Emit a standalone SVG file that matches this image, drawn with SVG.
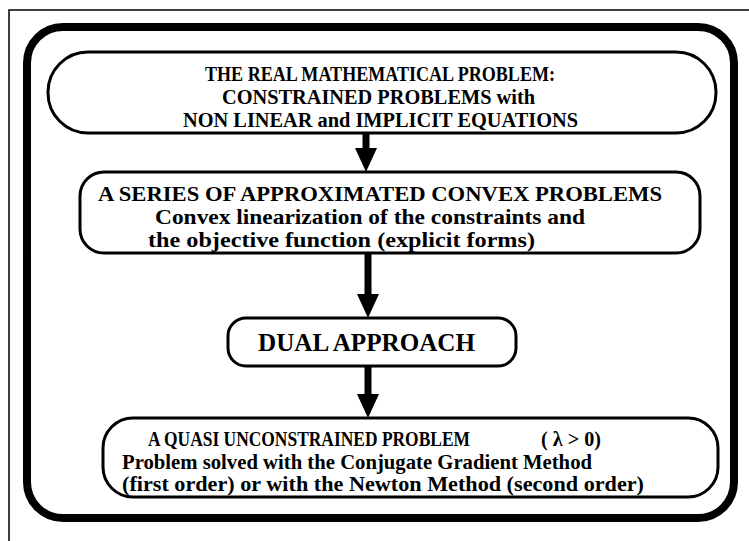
<svg xmlns="http://www.w3.org/2000/svg" width="749" height="541" viewBox="0 0 749 541">
<defs>
<style>
.box{fill:#fff;stroke:#000;stroke-width:3}
.t{font-family:"Liberation Serif","Times New Roman",serif;font-weight:bold;font-size:20px;fill:#000}
.c{text-anchor:middle}
.shaft{stroke:#000;stroke-width:7;fill:none}
</style>
<marker id="ah" markerUnits="userSpaceOnUse" viewBox="0 0 24 22" refX="0" refY="11" markerWidth="24" markerHeight="22" orient="auto">
<path d="M0,0 L24,11 L0,22 z" fill="#000"/>
</marker>
</defs>
<rect width="749" height="541" fill="#fff"/>
<path d="M9 541 V10 H749" fill="none" stroke="#000" stroke-width="1.5"/>
<rect x="27" y="27" width="707" height="491" rx="36" fill="none" stroke="#000" stroke-width="8"/>
<g id="connectors">
<line class="shaft" x1="366" y1="133" x2="366" y2="148" marker-end="url(#ah)"/>
<line class="shaft" x1="368" y1="253" x2="368" y2="294" marker-end="url(#ah)"/>
<line class="shaft" x1="368" y1="366" x2="368" y2="394" marker-end="url(#ah)"/>
</g>
<g id="node1">
<rect class="box" x="48" y="52" width="668" height="81" rx="40"/>
<text class="t" x="205" y="81" textLength="350" lengthAdjust="spacingAndGlyphs">THE REAL MATHEMATICAL PROBLEM:</text>
<text class="t" x="222" y="104" textLength="313" lengthAdjust="spacingAndGlyphs">CONSTRAINED PROBLEMS with</text>
<text class="t" x="183" y="127" textLength="395" lengthAdjust="spacingAndGlyphs">NON LINEAR and IMPLICIT EQUATIONS</text>
</g>
<g id="node2">
<rect class="box" x="80" y="172" width="620" height="81" rx="24"/>
<text class="t" x="98" y="201" style="font-size:21px" textLength="564" lengthAdjust="spacingAndGlyphs">A SERIES OF APPROXIMATED CONVEX PROBLEMS</text>
<text class="t" x="155" y="224" style="font-size:21px" textLength="430" lengthAdjust="spacingAndGlyphs">Convex linearization of the constraints and</text>
<text class="t" x="148" y="247" style="font-size:21px" textLength="387" lengthAdjust="spacingAndGlyphs">the objective function (explicit forms)</text>
</g>
<g id="node3">
<rect class="box" x="228" y="318" width="288" height="48" rx="18"/>
<text class="t" x="258" y="351" style="font-size:25px" textLength="217" lengthAdjust="spacingAndGlyphs">DUAL APPROACH</text>
</g>
<g id="node4">
<rect class="box" x="103" y="418" width="615" height="79" rx="30"/>
<text class="t" x="148" y="446" textLength="322" lengthAdjust="spacingAndGlyphs">A QUASI UNCONSTRAINED PROBLEM</text>
<text class="t" x="541" y="446" textLength="60" lengthAdjust="spacingAndGlyphs">( λ &gt; 0)</text>
<text class="t" x="122" y="469" style="font-size:21px" textLength="470" lengthAdjust="spacingAndGlyphs">Problem solved with the Conjugate Gradient Method</text>
<text class="t" x="122" y="491" style="font-size:21px" textLength="522" lengthAdjust="spacingAndGlyphs">(first order) or with the Newton Method (second order)</text>
</g>
</svg>
